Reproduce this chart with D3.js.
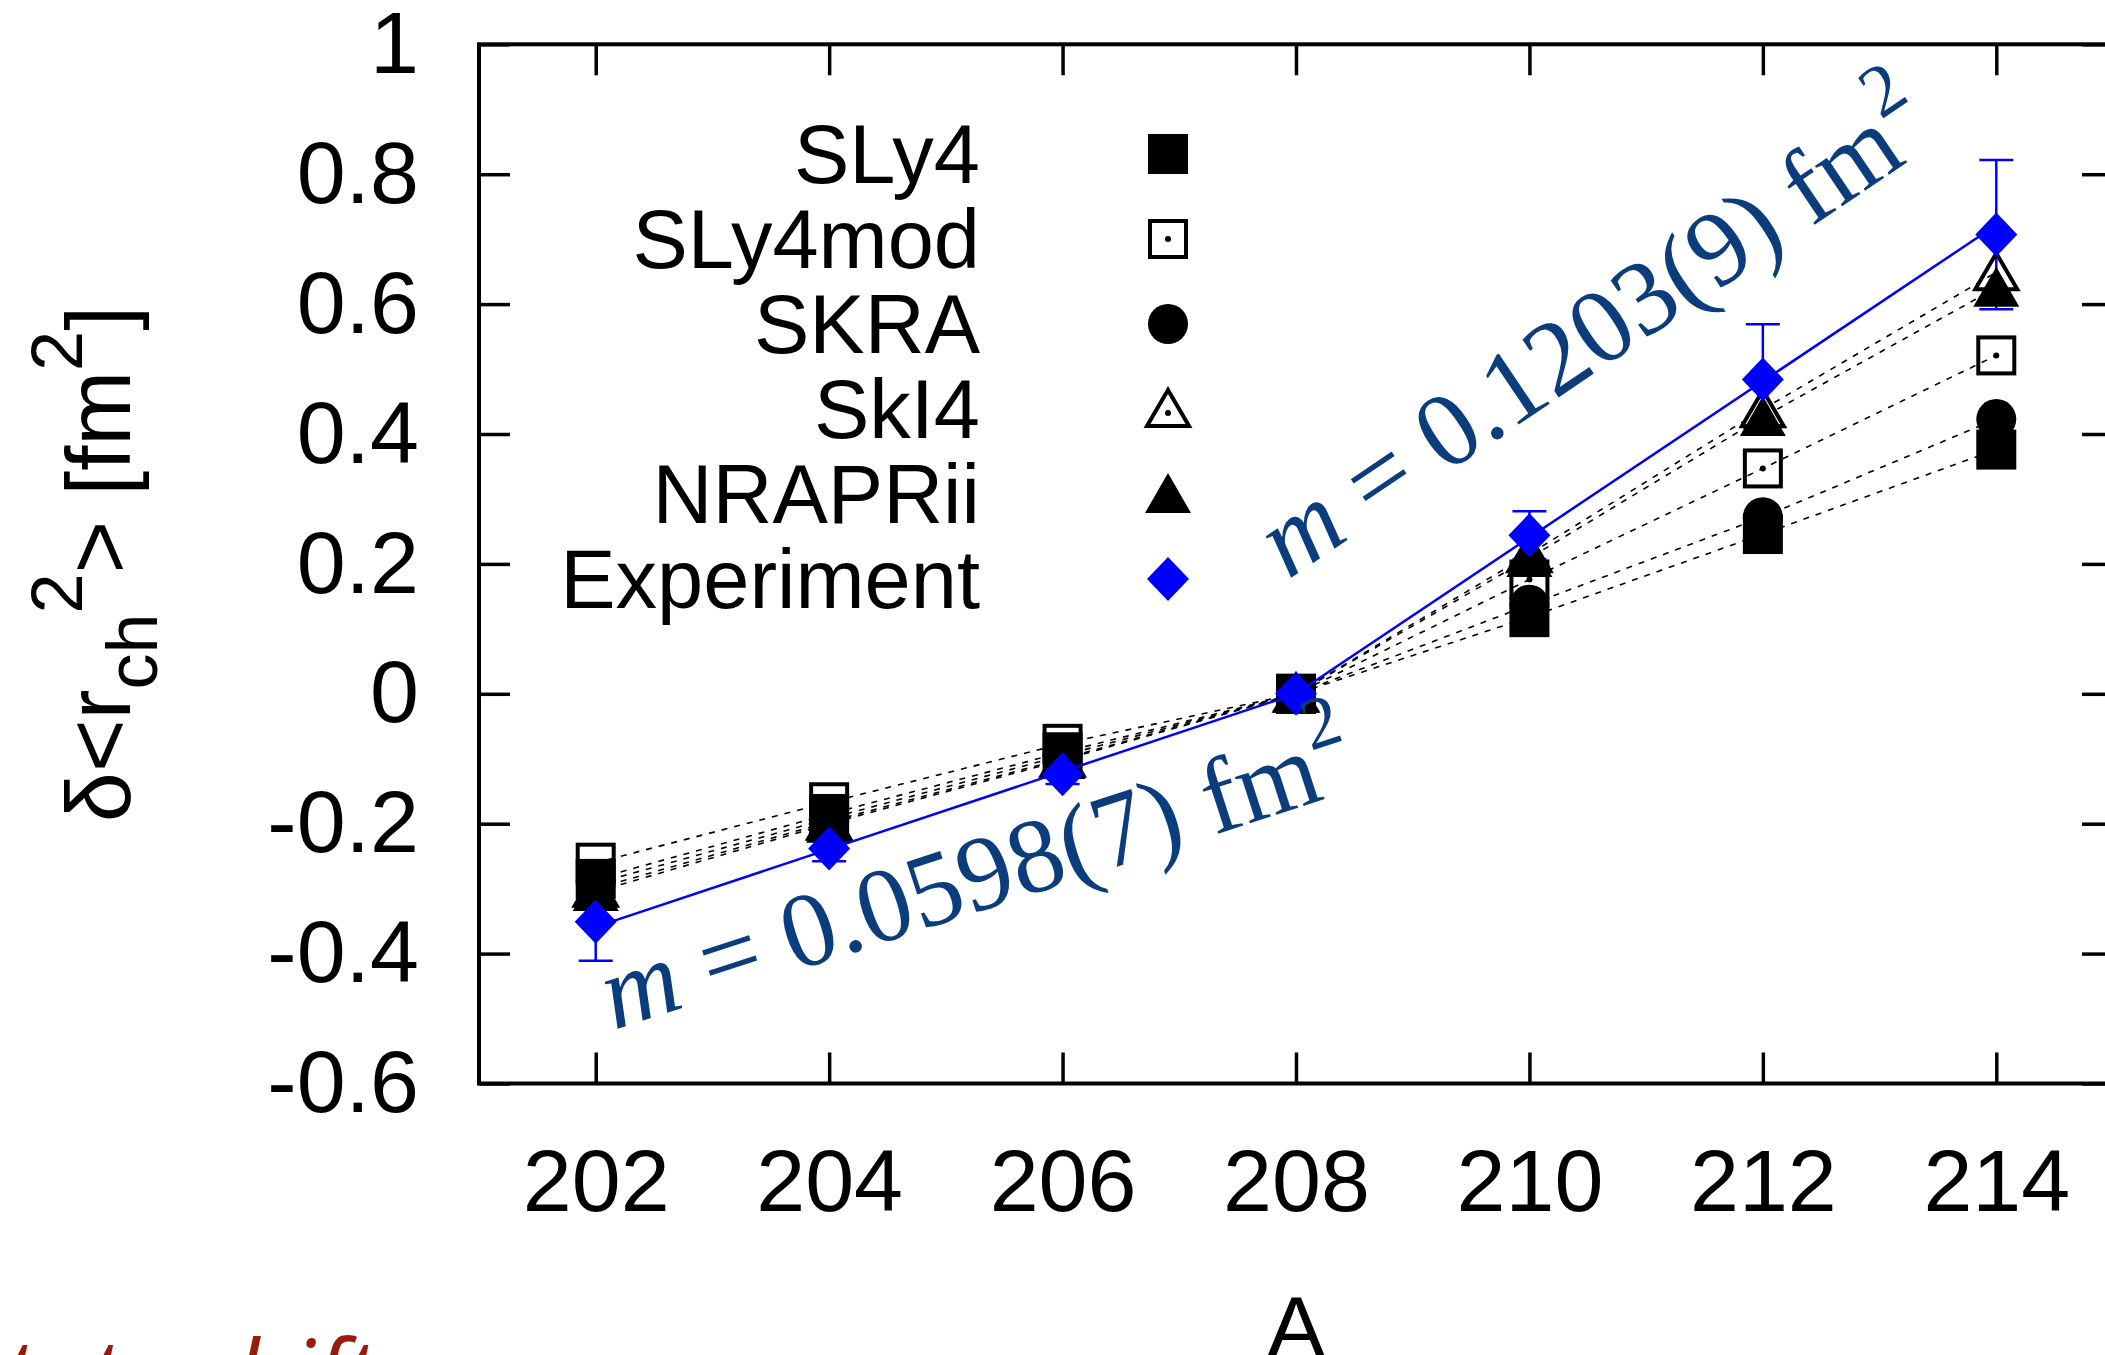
<!DOCTYPE html>
<html>
<head>
<meta charset="utf-8">
<script src="https://cdn.jsdelivr.net/npm/d3@7"></script>
<style>
  html, body { margin: 0; padding: 0; background: #fff; }
  svg { display: block; }
</style>
</head>
<body>
<svg id="chart" width="2105" height="1355"></svg>
<script>
// Mass numbers of the Pb isotopes
const massNumbers = [202, 204, 206, 208, 210, 212, 214];

// Calculated changes in mean-square charge radius relative to 208Pb [fm^2]
const seriesNames = ["SLy4", "SLy4mod", "SKRA", "SkI4", "NRAPRii", "Experiment"];
const sly4    = [-0.285, -0.185, -0.090, 0, 0.118, 0.246, 0.376];
const sly4mod = [-0.260, -0.167, -0.077, 0, 0.176, 0.347, 0.521];
const skra    = [-0.292, -0.192, -0.095, 0, 0.137, 0.272, 0.423];
const ski4    = [-0.300, -0.197, -0.100, 0, 0.215, 0.438, 0.649];
const nraprii = [-0.305, -0.200, -0.102, 0, 0.209, 0.426, 0.625];

// Measured values and their uncertainties [fm^2]
const experiment      = [-0.351, -0.238, -0.124, 0, 0.244, 0.484, 0.707];
const experimentError = [0.060, 0.020, 0.015, 0, 0.037, 0.085, 0.115];

// Linear-fit slopes below and above N = 126 [fm^2 per mass unit]
const slopeLabels = ["m = 0.0598(7) fm", "m = 0.1203(9) fm"];
const slopeValues = [0.0598, 0.1203];
const slopeRanges = [[202, 208], [208, 214]];

// Axis ticks
const xTickValues = [202, 204, 206, 208, 210, 212, 214];
const yTickValues = [-0.6, -0.4, -0.2, 0, 0.2, 0.4, 0.6, 0.8, 1];

// ---------------------------------------------------------------------------
const svg = d3.select("#chart");
svg.append("rect").attr("width", 2105).attr("height", 1355).attr("fill", "#fff");

const x = d3.scaleLinear().domain([201, 215]).range([479, 2113]);
const y = d3.scaleLinear().domain([-0.6, 1]).range([1083.5, 44.3]);

const sansFont = "'Liberation Sans', Arial, Helvetica, sans-serif";
const tickLen = 31;
const axisStroke = 4;

// Frame
svg.append("rect")
  .attr("x", x.range()[0]).attr("y", y.range()[1])
  .attr("width", x.range()[1] - x.range()[0])
  .attr("height", y.range()[0] - y.range()[1])
  .attr("fill", "none").attr("stroke", "#000").attr("stroke-width", axisStroke);

function styleAxis(g, fontSize) {
  g.attr("font-family", sansFont).attr("font-size", fontSize);
  g.select(".domain").remove();
  g.selectAll(".tick line").attr("stroke", "#000").attr("stroke-width", 3.5);
  g.selectAll(".tick text").attr("fill", "#000");
}

const yFormat = d => String(d);

svg.append("g")
  .attr("transform", `translate(0,${y.range()[0]})`)
  .call(d3.axisBottom(x).tickValues(xTickValues).tickSizeInner(-tickLen).tickSizeOuter(0)
    .tickPadding(65).tickFormat(d3.format("d")))
  .call(g => styleAxis(g, 88));

svg.append("g")
  .attr("transform", `translate(${x.range()[0]},0)`)
  .call(d3.axisLeft(y).tickValues(yTickValues).tickSizeInner(-tickLen).tickSizeOuter(0)
    .tickPadding(60).tickFormat(yFormat))
  .call(g => styleAxis(g, 88));

svg.append("g")
  .attr("transform", `translate(0,${y.range()[1]})`)
  .call(d3.axisTop(x).tickValues(xTickValues).tickSizeInner(-tickLen).tickSizeOuter(0).tickFormat(""))
  .call(g => styleAxis(g, 10));

svg.append("g")
  .attr("transform", `translate(${x.range()[1]},0)`)
  .call(d3.axisRight(y).tickValues(yTickValues).tickSizeInner(-tickLen).tickSizeOuter(0).tickFormat(""))
  .call(g => styleAxis(g, 10));

// ---------------------------------------------------------------------------
// Point symbols
const symbolDrawers = {
  filledSquare: g => g.append("rect").attr("x", -20).attr("y", -20).attr("width", 40).attr("height", 40).attr("fill", "#000"),
  openSquare: g => {
    g.append("rect").attr("x", -18).attr("y", -18).attr("width", 36).attr("height", 36)
      .attr("fill", "none").attr("stroke", "#000").attr("stroke-width", 4);
    g.append("circle").attr("r", 3).attr("fill", "#000");
  },
  filledCircle: g => g.append("circle").attr("r", 20).attr("fill", "#000"),
  openTriangle: g => {
    g.append("path").attr("d", "M0,-19 L21,17 L-21,17 Z")
      .attr("fill", "none").attr("stroke", "#000").attr("stroke-width", 4).attr("stroke-linejoin", "miter");
    g.append("circle").attr("cy", 4).attr("r", 3).attr("fill", "#000");
  },
  filledTriangle: g => g.append("path").attr("d", "M0,-21 L23,19 L-23,19 Z").attr("fill", "#000"),
  diamond: g => g.append("path").attr("d", "M0,-22 L21,0 L0,22 L-21,0 Z").attr("fill", "#0000ff")
};

const models = [
  { name: seriesNames[0], values: sly4,    symbol: "filledSquare" },
  { name: seriesNames[1], values: sly4mod, symbol: "openSquare" },
  { name: seriesNames[2], values: skra,    symbol: "filledCircle" },
  { name: seriesNames[3], values: ski4,    symbol: "openTriangle" },
  { name: seriesNames[4], values: nraprii, symbol: "filledTriangle" }
];

const plot = svg.append("g");

// Experimental error bars (behind the calculated points)
const errGroup = plot.append("g").attr("stroke", "#0000ff").attr("stroke-width", 2.5);
massNumbers.forEach((a, i) => {
  const e = experimentError[i];
  if (!e) return;
  const px = x(a), y0 = y(experiment[i] - e), y1 = y(experiment[i] + e);
  errGroup.append("line").attr("x1", px).attr("x2", px).attr("y1", y0).attr("y2", y1);
  errGroup.append("line").attr("x1", px - 17).attr("x2", px + 17).attr("y1", y0).attr("y2", y0);
  errGroup.append("line").attr("x1", px - 17).attr("x2", px + 17).attr("y1", y1).attr("y2", y1);
});

// Dotted guide lines joining each model's points
const line = d3.line().x(d => x(d[0])).y(d => y(d[1]));
models.forEach(m => {
  plot.append("path")
    .datum(massNumbers.map((a, i) => [a, m.values[i]]))
    .attr("d", line)
    .attr("fill", "none").attr("stroke", "#000").attr("stroke-width", 1.6)
    .attr("stroke-dasharray", "6 7");
});

// Model points
models.forEach(m => {
  massNumbers.forEach((a, i) => {
    const g = plot.append("g").attr("transform", `translate(${x(a)},${y(m.values[i])})`);
    symbolDrawers[m.symbol](g);
  });
});

// Linear fits of the experimental data
slopeValues.forEach((s, k) => {
  const pts = slopeRanges[k].map(a => [a, s * (a - 208)]);
  plot.append("path").datum(pts).attr("d", line)
    .attr("fill", "none").attr("stroke", "#0000ff").attr("stroke-width", 2.5);
});

// Experimental points
massNumbers.forEach((a, i) => {
  const g = plot.append("g").attr("transform", `translate(${x(a)},${y(experiment[i])})`);
  symbolDrawers.diamond(g);
});

// ---------------------------------------------------------------------------
// Legend
const legendSymbols = models.map(m => m.symbol).concat(["diamond"]);
const legend = svg.append("g");
seriesNames.forEach((name, i) => {
  const cy = 154 + i * 85;
  legend.append("text")
    .attr("x", 980).attr("y", cy).attr("dy", "0.35em")
    .attr("text-anchor", "end")
    .attr("font-family", sansFont).attr("font-size", 83).attr("fill", "#000")
    .text(name);
  symbolDrawers[legendSymbols[i]](legend.append("g").attr("transform", `translate(1168,${cy})`));
});

// ---------------------------------------------------------------------------
// Slope annotations
const noteColor = "#0b3d7c";
const notePos = [
  { x: 614, y: 1030, angle: -18 },
  { x: 1288, y: 580, angle: -34 }
];
slopeLabels.forEach((label, k) => {
  const t = svg.append("text")
    .attr("transform", `translate(${notePos[k].x},${notePos[k].y}) rotate(${notePos[k].angle})`)
    .attr("font-family", "'Liberation Serif', 'Times New Roman', serif")
    .attr("font-size", 106).attr("fill", noteColor);
  t.append("tspan").attr("font-style", "italic").text(label.slice(0, 1));
  t.append("tspan").text(label.slice(1));
  t.append("tspan").attr("font-size", 74).attr("dy", -50).text("2");
});

// ---------------------------------------------------------------------------
// Axis titles
const yTitle = svg.append("text")
  .attr("transform", `translate(130,564) rotate(-90)`)
  .attr("text-anchor", "middle")
  .attr("font-family", sansFont).attr("font-size", 90).attr("fill", "#000");
yTitle.append("tspan").text("δ<r");
yTitle.append("tspan").attr("font-size", 72).attr("dy", 27).text("ch");
yTitle.append("tspan").attr("font-size", 72).attr("dy", -75).text("2");
yTitle.append("tspan").attr("dy", 48).text("> [fm");
yTitle.append("tspan").attr("font-size", 72).attr("dy", -48).text("2");
yTitle.append("tspan").attr("dy", 48).text("]");

svg.append("text")
  .attr("x", (x.range()[0] + x.range()[1]) / 2).attr("y", 1358)
  .attr("text-anchor", "middle")
  .attr("font-family", sansFont).attr("font-size", 88).attr("fill", "#000")
  .text("A");

// Caption running off the bottom edge
svg.append("text")
  .attr("x", -38).attr("y", 1408)
  .attr("font-family", "'Open Sans', 'DejaVu Sans', sans-serif")
  .attr("font-style", "italic")
  .attr("font-size", 96).attr("fill", "#9b1b0b")
  .text("state shift");
</script>
</body>
</html>
